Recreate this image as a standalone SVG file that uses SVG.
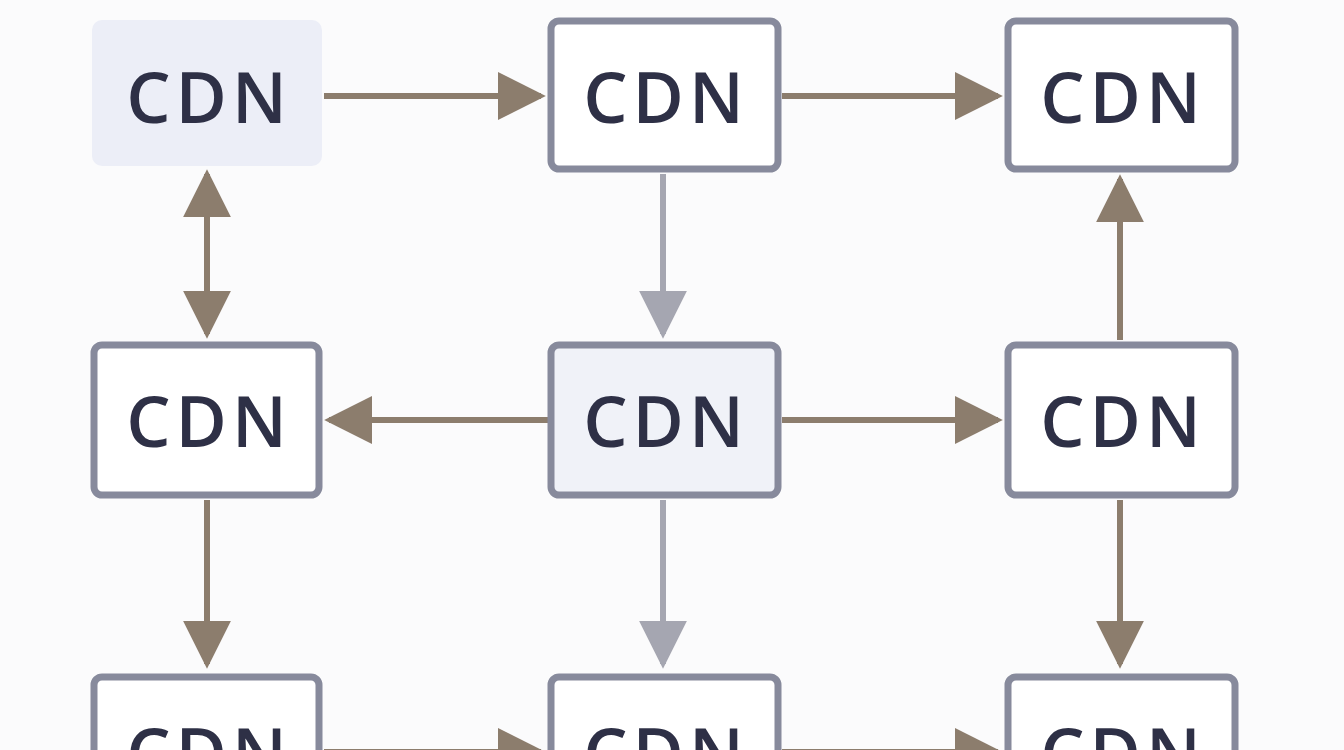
<svg xmlns="http://www.w3.org/2000/svg" width="1344" height="750" viewBox="0 0 1344 750">
<defs>
<style>
.n{fill:#ffffff;stroke:#878a9c;stroke-width:7}
.l{fill:#f0f2f8}
.t{font-family:"Open Sans","Liberation Sans",sans-serif;font-weight:600;font-size:70px;letter-spacing:5px;fill:#2e3046;text-anchor:middle;dominant-baseline:central}
.b{stroke:#8c7d6d;stroke-width:6;fill:none}
.g{stroke:#a5a6b1;stroke-width:6;fill:none}
</style>
<marker id="ab" viewBox="0 0 10 10" refX="9" refY="5" markerWidth="8" markerHeight="8" markerUnits="strokeWidth" orient="auto-start-reverse"><path d="M0,0L10,5L0,10z" fill="#8c7d6d"/></marker>
<marker id="ag" viewBox="0 0 10 10" refX="9" refY="5" markerWidth="8" markerHeight="8" markerUnits="strokeWidth" orient="auto"><path d="M0,0L10,5L0,10z" fill="#a5a6b1"/></marker>
</defs>
<rect width="1344" height="750" fill="#fbfbfc"/>
<g id="connectors">
<path class="b" d="M324,96H541" marker-end="url(#ab)"/>
<path class="b" d="M782,96H998" marker-end="url(#ab)"/>
<path class="b" d="M207,174V334" marker-start="url(#ab)" marker-end="url(#ab)"/>
<path class="g" d="M663,174V334" marker-end="url(#ag)"/>
<path class="b" d="M1120,340V179" marker-end="url(#ab)"/>
<path class="b" d="M548,420H329" marker-end="url(#ab)"/>
<path class="b" d="M782,420H998" marker-end="url(#ab)"/>
<path class="b" d="M207,500V664" marker-end="url(#ab)"/>
<path class="g" d="M663,500V664" marker-end="url(#ag)"/>
<path class="b" d="M1120,500V664" marker-end="url(#ab)"/>
<path class="b" d="M324,752H541" marker-end="url(#ab)"/>
<path class="b" d="M782,752H998" marker-end="url(#ab)"/>
</g>
<g id="n1"><rect x="92" y="20" width="230" height="146" rx="10" fill="#eceef7"/><text class="t" x="209" y="96">CDN</text></g>
<g id="n2"><rect class="n" x="551" y="21" width="227" height="148" rx="8"/><text class="t" x="666" y="96">CDN</text></g>
<g id="n3"><rect class="n" x="1008" y="21" width="227" height="148" rx="8"/><text class="t" x="1123" y="96">CDN</text></g>
<g id="n4"><rect class="n" x="94" y="345" width="225" height="150" rx="8"/><text class="t" x="209" y="420">CDN</text></g>
<g id="n5"><rect class="n l" x="551" y="345" width="227" height="150" rx="8"/><text class="t" x="666" y="420">CDN</text></g>
<g id="n6"><rect class="n" x="1008" y="345" width="227" height="150" rx="8"/><text class="t" x="1123" y="420">CDN</text></g>
<g id="n7"><rect class="n" x="94" y="677" width="225" height="150" rx="8"/><text class="t" x="209" y="752">CDN</text></g>
<g id="n8"><rect class="n" x="551" y="677" width="227" height="150" rx="8"/><text class="t" x="666" y="752">CDN</text></g>
<g id="n9"><rect class="n" x="1008" y="677" width="227" height="150" rx="8"/><text class="t" x="1123" y="752">CDN</text></g>
</svg>
